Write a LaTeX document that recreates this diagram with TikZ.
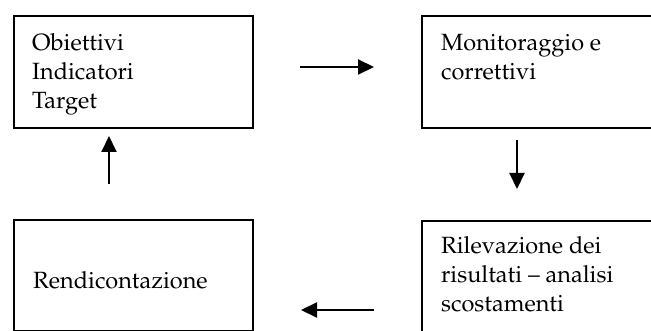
\documentclass[tikz,border=0pt]{standalone}
\usepackage[T1]{fontenc}
\usepackage{mathpazo}
\usetikzlibrary{arrows.meta}

\newcommand{\lines}[1]{\begin{tabular}[t]{@{}l@{}}#1\end{tabular}}

\tikzset{
  box/.style={draw=black, line width=1.8pt, anchor=north west, inner sep=0pt},
  label/.style={anchor=base west, inner sep=0pt, font=\fontsize{23.5}{28.8}\selectfont},
  flow/.style={line width=2pt, -{Triangle[length=16pt,width=15pt]}}
}

\begin{document}
\begin{tikzpicture}[x=1pt, y=-1pt]
  \useasboundingbox (0,0) rectangle (651,331);
  \clip (0,0) rectangle (651,331);

  % boxes
  \node[box, minimum width=239pt, minimum height=112pt] (obj) at (13,15) {};
  \node[box, minimum width=260pt, minimum height=112pt] (mon) at (421,15) {};
  \node[box, minimum width=239pt, minimum height=111pt] (ren) at (13,219) {};
  \node[box, minimum width=260pt, minimum height=130pt] (ril) at (421,220) {};

  % texts
  \node[label] (tobj) at (32,51) {\lines{Obiettivi\\Indicatori\\Target}};
  \node[label] (tmon) at (441,51) {\lines{Monitoraggio e\\correttivi}};
  \node[label] (tren) at (33,289) {Rendicontazione};
  \node[label] (tril) at (441,254) {\lines{Rilevazione dei\\risultati -- analisi\\scostamenti}};

  % arrow end points
  \coordinate (a1s) at (300,67);  \coordinate (a1e) at (374,67);
  \coordinate (a2s) at (517,140); \coordinate (a2e) at (517,189);
  \coordinate (a3s) at (374,310); \coordinate (a3e) at (301,310);
  \coordinate (a4s) at (109,184); \coordinate (a4e) at (109,136);

  \draw[flow] (a1s) -- (a1e);
  \draw[flow] (a2s) -- (a2e);
  \draw[flow] (a3s) -- (a3e);
  \draw[flow] (a4s) -- (a4e);
\end{tikzpicture}
\end{document}
